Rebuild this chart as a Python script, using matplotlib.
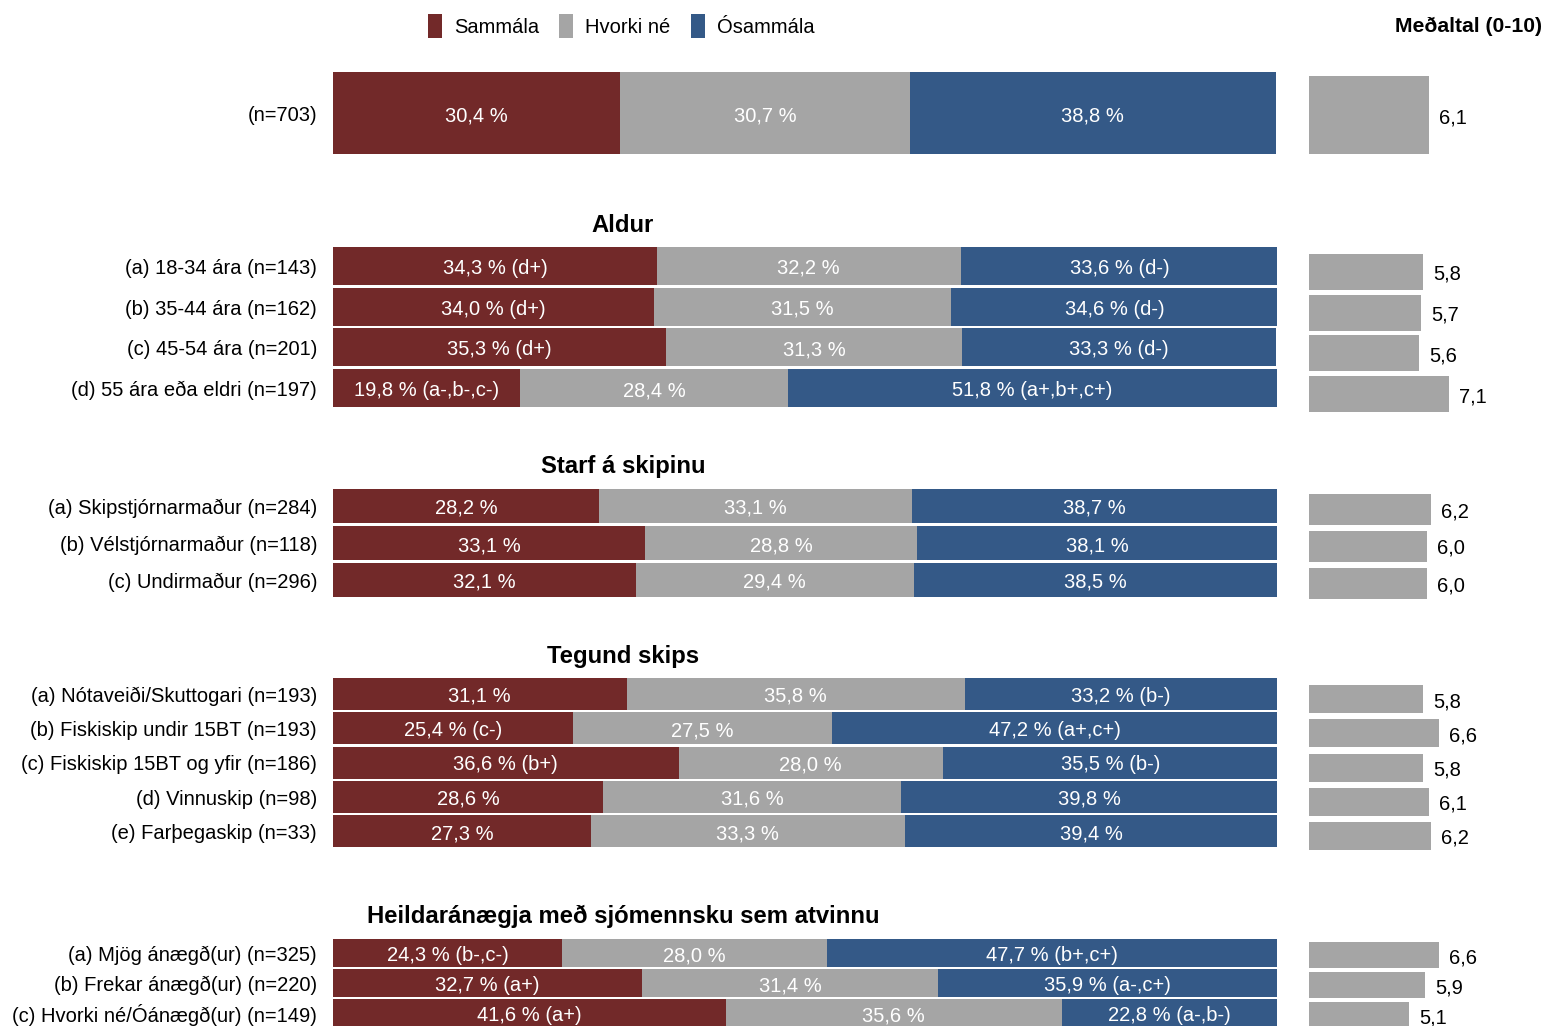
"""Stacked agreement bars by group, with group means on the right."""

import matplotlib.pyplot as plt
import matplotlib.transforms as mtransforms
from matplotlib.patches import Patch

plt.rcParams["font.family"] = ["Liberation Sans", "DejaVu Sans"]

# ---- data -------------------------------------------------------------
series_names = ["Sammála", "Hvorki né", "Ósammála"]
series_colors = ["#722929", "#a5a5a5", "#345987"]

group_titles = [
    None,
    "Aldur",
    "Starf á skipinu",
    "Tegund skips",
    "Heildaránægja með sjómennsku sem atvinnu",
]

row_labels = [
    ["(n=703)"],
    [
        "(a) 18-34 ára (n=143)",
        "(b) 35-44 ára (n=162)",
        "(c) 45-54 ára (n=201)",
        "(d) 55 ára eða eldri (n=197)",
    ],
    [
        "(a) Skipstjórnarmaður (n=284)",
        "(b) Vélstjórnarmaður (n=118)",
        "(c) Undirmaður (n=296)",
    ],
    [
        "(a) Nótaveiði/Skuttogari (n=193)",
        "(b) Fiskiskip undir 15BT (n=193)",
        "(c) Fiskiskip 15BT og yfir (n=186)",
        "(d) Vinnuskip (n=98)",
        "(e) Farþegaskip (n=33)",
    ],
    [
        "(a) Mjög ánægð(ur) (n=325)",
        "(b) Frekar ánægð(ur) (n=220)",
        "(c) Hvorki né/Óánægð(ur) (n=149)",
    ],
]

agree = [[30.4], [34.3, 34.0, 35.3, 19.8], [28.2, 33.1, 32.1],
         [31.1, 25.4, 36.6, 28.6, 27.3], [24.3, 32.7, 41.6]]
neutral = [[30.7], [32.2, 31.5, 31.3, 28.4], [33.1, 28.8, 29.4],
           [35.8, 27.5, 28.0, 31.6, 33.3], [28.0, 31.4, 35.6]]
disagree = [[38.8], [33.6, 34.6, 33.3, 51.8], [38.7, 38.1, 38.5],
            [33.2, 47.2, 35.5, 39.8, 39.4], [47.7, 35.9, 22.8]]

agree_sig = [[""], ["d+", "d+", "d+", "a-,b-,c-"], ["", "", ""],
             ["", "c-", "b+", "", ""], ["b-,c-", "a+", "a+"]]
neutral_sig = [[""], ["", "", "", ""], ["", "", ""],
               ["", "", "", "", ""], ["", "", ""]]
disagree_sig = [[""], ["d-", "d-", "d-", "a+,b+,c+"], ["", "", ""],
                ["b-", "a+,c+", "b-", "", ""], ["b+,c+", "a-,c+", "a-,b-"]]

means = [[6.1], [5.8, 5.7, 5.6, 7.1], [6.2, 6.0, 6.0],
         [5.8, 6.6, 5.8, 6.1, 6.2], [6.6, 5.9, 5.1]]

# ---- layout (pixel rows of the 1026 px tall figure) -------------------
W, H = 1546, 1026
group_layout = [
    # first row centre, row pitch, bar height, heading y, mean shift, mean height
    (113, 0.0, 82, None, 2, 78),
    (266, 40.7, 38, 225, 6, 36),
    (506, 37.0, 34, 466, 3, 31),
    (694, 34.25, 32, 656, 5, 28),
    (953, 30.0, 28, 916, 2, 26),
]
FS = 14.5
TXT_DY = 0.5


def fmt(value, sig):
    text = f"{value:.1f} %".replace(".", ",")
    return f"{text} ({sig})" if sig else text


fig = plt.figure(figsize=(W / 100, H / 100), dpi=100)
ax = fig.add_axes([333 / W, 0, 944 / W, 1])
ax_mean = fig.add_axes([1309 / W, 0, 197 / W, 1])
for a in (ax, ax_mean):
    a.set_ylim(H, 0)
    for spine in a.spines.values():
        spine.set_visible(False)
    a.set_xticks([])
ax.set_xlim(0, 100)
ax_mean.set_xlim(0, 10)
ax_mean.set_yticks([])

heading_tf = mtransforms.blended_transform_factory(fig.transFigure, ax.transData)

ticks, tick_labels = [], []
for g, (y0, pitch, height, head_y, mshift, mheight) in enumerate(group_layout):
    ys = [y0 + i * pitch for i in range(len(row_labels[g]))]
    ticks += ys
    tick_labels += row_labels[g]
    if group_titles[g]:
        ax.text(623 / W, head_y, group_titles[g], transform=heading_tf,
                ha="center", va="center", fontsize=17.2, fontweight="bold")
    left = [0.0] * len(ys)
    for vals, sigs, color in zip(
        (agree[g], neutral[g], disagree[g]),
        (agree_sig[g], neutral_sig[g], disagree_sig[g]),
        series_colors,
    ):
        ax.barh(ys, vals, left=left, height=height, color=color, linewidth=0)
        for y, l, v, s in zip(ys, left, vals, sigs):
            ax.text(l + v / 2, y + TXT_DY, fmt(v, s), ha="center",
                    va="center_baseline", color="white", fontsize=FS)
        left = [l + v for l, v in zip(left, vals)]
    mys = [y + mshift for y in ys]
    ax_mean.barh(mys, means[g], height=mheight, color=series_colors[1],
                 linewidth=0)
    for y, m in zip(mys, means[g]):
        ax_mean.annotate(f"{m:.1f}".replace(".", ","), (m, y + TXT_DY),
                         xytext=(7, 0), textcoords="offset points",
                         ha="left", va="center_baseline", fontsize=FS)

ax.set_yticks([t + TXT_DY for t in ticks])
ax.set_yticklabels(tick_labels, fontsize=FS)
ax.tick_params(axis="y", length=0, pad=11.5)

handles = [Patch(facecolor=c, edgecolor="none") for c in series_colors]
fig.legend(handles, series_names, loc="center", ncol=3, frameon=False,
           bbox_to_anchor=(621 / W, 1 - 26 / H), fontsize=FS,
           handlelength=0.7, handleheight=1.5, handletextpad=0.6,
           columnspacing=1.0)
fig.text(1542 / W, 1 - 26 / H, "Meðaltal (0-10)", ha="right", va="center",
         fontsize=15.2, fontweight="bold")

fig.savefig("out.png", dpi=100)
